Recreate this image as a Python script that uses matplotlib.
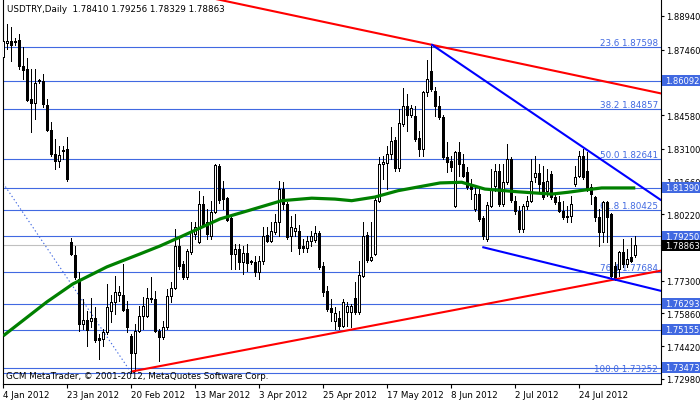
import matplotlib
matplotlib.use('Agg')
import matplotlib.pyplot as plt
from matplotlib.patches import Rectangle
import numpy as np

# ---------------- data ----------------
opens = [1.8714, 1.8775, 1.8784, 1.8784, 1.8789, 1.8674, 1.8661, 1.8529, 1.8511, 1.8613,
         1.8608, 1.8503, 1.8393, 1.8287, 1.8256, 1.8305, 1.8309, 1.7900, 1.7843, 1.7737,
         1.7539, 1.7557, 1.7552, 1.7565, 1.7477, 1.7473, 1.7504, 1.7596, 1.7636, 1.7667,
         1.7667, 1.7605, 1.7486, 1.7411, 1.7508, 1.7574, 1.7574, 1.7649, 1.7649, 1.7508,
         1.7482, 1.7526, 1.7662, 1.7697, 1.7882, 1.7803, 1.7746, 1.7856, 1.7935, 1.7900,
         1.8067, 1.7988, 1.7926, 1.8032, 1.8234, 1.8133, 1.8094, 1.8005, 1.7847, 1.7869,
         1.7812, 1.7851, 1.7816, 1.7812, 1.7768, 1.7816, 1.7931, 1.7904, 1.7944, 1.7988,
         1.8133, 1.8067, 1.7926, 1.7948, 1.7948, 1.7882, 1.7873, 1.7904, 1.7909, 1.7939,
         1.7794, 1.7684, 1.7609, 1.7552, 1.7565, 1.7530, 1.7592, 1.7592, 1.7654, 1.7592,
         1.7750, 1.7931, 1.7821, 1.7847, 1.8080, 1.8243, 1.8247, 1.8287, 1.8349, 1.8226,
         1.8419, 1.8498, 1.8459, 1.8454, 1.8357, 1.8309, 1.8560, 1.8653, 1.8564, 1.8498,
         1.8450, 1.8274, 1.8256, 1.8058, 1.8296, 1.8243, 1.8208, 1.8155, 1.8045, 1.8111,
         1.8005, 1.7913, 1.8058, 1.8146, 1.8212, 1.8067, 1.8164, 1.8265, 1.8080, 1.8036,
         1.7957, 1.8058, 1.8080, 1.8186, 1.8203, 1.8164, 1.8124, 1.8199, 1.8098, 1.8076,
         1.8036, 1.8014, 1.8014, 1.8155, 1.8190, 1.8278, 1.8212, 1.8142, 1.8098, 1.8010,
         1.7944, 1.8076, 1.8023, 1.7794, 1.7781, 1.7856, 1.7803, 1.7834, 1.78410]
highs = [1.8881, 1.8859, 1.8846, 1.8797, 1.8815, 1.8758, 1.8709, 1.8661, 1.8661, 1.8617,
         1.8639, 1.8529, 1.8428, 1.8353, 1.8322, 1.8322, 1.8362, 1.7917, 1.7882, 1.7768,
         1.7649, 1.7596, 1.7654, 1.7614, 1.7495, 1.7517, 1.7715, 1.7667, 1.7750, 1.7706,
         1.7803, 1.7640, 1.7495, 1.7539, 1.7618, 1.7658, 1.7697, 1.7746, 1.7684, 1.7517,
         1.7552, 1.7693, 1.7724, 1.7957, 1.7913, 1.7816, 1.7869, 1.7988, 1.7988, 1.8124,
         1.8102, 1.8045, 1.8080, 1.8243, 1.8243, 1.8168, 1.8098, 1.8010, 1.7891, 1.7891,
         1.7882, 1.7891, 1.7821, 1.7838, 1.7838, 1.7966, 1.7966, 1.7988, 1.8023, 1.8168,
         1.8164, 1.8076, 1.8014, 1.8023, 1.7975, 1.7913, 1.7926, 1.7948, 1.7970, 1.7948,
         1.7812, 1.7706, 1.7649, 1.7614, 1.7596, 1.7649, 1.7636, 1.7627, 1.7724, 1.7816,
         1.7988, 1.7944, 1.7988, 1.8102, 1.8274, 1.8278, 1.8322, 1.8406, 1.8362, 1.8485,
         1.8578, 1.8551, 1.8503, 1.8498, 1.8388, 1.8564, 1.8701, 1.8762, 1.8582, 1.8542,
         1.8459, 1.8340, 1.8278, 1.8300, 1.8340, 1.8287, 1.8230, 1.8177, 1.8146, 1.8133,
         1.8014, 1.8076, 1.8221, 1.8243, 1.8243, 1.8243, 1.8331, 1.8274, 1.8102, 1.8058,
         1.8067, 1.8102, 1.8265, 1.8278, 1.8243, 1.8234, 1.8221, 1.8212, 1.8111, 1.8102,
         1.8080, 1.8058, 1.8102, 1.8234, 1.8300, 1.8309, 1.8296, 1.8155, 1.8102, 1.8045,
         1.8080, 1.8080, 1.8027, 1.7812, 1.7860, 1.7913, 1.7869, 1.7917, 1.79256]
lows = [1.8705, 1.8749, 1.8696, 1.8767, 1.8661, 1.8617, 1.8520, 1.8384, 1.8441, 1.8600,
        1.8494, 1.8388, 1.8278, 1.8221, 1.8230, 1.8265, 1.8168, 1.7843, 1.7737, 1.7508,
        1.7517, 1.7442, 1.7526, 1.7460, 1.7385, 1.7442, 1.7495, 1.7548, 1.7583, 1.7640,
        1.7596, 1.7504, 1.7325, 1.7332, 1.7506, 1.7517, 1.7572, 1.7636, 1.7504, 1.7376,
        1.7473, 1.7517, 1.7636, 1.7693, 1.7781, 1.7737, 1.7737, 1.7847, 1.7913, 1.7898,
        1.7966, 1.7913, 1.7913, 1.8027, 1.8071, 1.8045, 1.7992, 1.7781, 1.7781, 1.7781,
        1.7759, 1.7772, 1.7803, 1.7750, 1.7737, 1.7803, 1.7900, 1.7900, 1.7935, 1.7926,
        1.8045, 1.7913, 1.7860, 1.7926, 1.7847, 1.7856, 1.7856, 1.7882, 1.7900, 1.7781,
        1.7662, 1.7596, 1.7552, 1.7517, 1.7517, 1.7526, 1.7530, 1.7526, 1.7583, 1.7583,
        1.7746, 1.7812, 1.7816, 1.7843, 1.8076, 1.8177, 1.8133, 1.8265, 1.8212, 1.8212,
        1.8410, 1.8388, 1.8450, 1.8344, 1.8278, 1.8278, 1.8542, 1.8564, 1.8454, 1.8441,
        1.8265, 1.8208, 1.8212, 1.8054, 1.8190, 1.8186, 1.8133, 1.8089, 1.8036, 1.7992,
        1.7913, 1.7904, 1.8054, 1.8124, 1.8058, 1.8058, 1.8155, 1.8076, 1.8023, 1.7944,
        1.7944, 1.8045, 1.8076, 1.8164, 1.8120, 1.8089, 1.8102, 1.8089, 1.8067, 1.8032,
        1.8001, 1.7988, 1.7988, 1.8146, 1.8186, 1.8177, 1.8124, 1.8067, 1.7992, 1.7882,
        1.7900, 1.7900, 1.7746, 1.7733, 1.7750, 1.7790, 1.7790, 1.7812, 1.78329]
closes = [1.8784, 1.8784, 1.8767, 1.8780, 1.8674, 1.8657, 1.8525, 1.8511, 1.8600, 1.8608,
          1.8507, 1.8393, 1.8287, 1.8256, 1.8283, 1.8300, 1.8177, 1.7847, 1.7746, 1.7539,
          1.7557, 1.7513, 1.7565, 1.7469, 1.7469, 1.7504, 1.7614, 1.7636, 1.7680, 1.7680,
          1.7600, 1.7526, 1.7411, 1.7508, 1.7574, 1.7618, 1.7654, 1.7654, 1.7508, 1.7482,
          1.7526, 1.7662, 1.7697, 1.7882, 1.7794, 1.7746, 1.7860, 1.7944, 1.7966, 1.8067,
          1.7970, 1.7935, 1.8032, 1.8239, 1.8085, 1.8089, 1.7997, 1.7847, 1.7869, 1.7812,
          1.7851, 1.7808, 1.7812, 1.7768, 1.7816, 1.7926, 1.7904, 1.7948, 1.7988, 1.8133,
          1.8067, 1.7922, 1.7966, 1.7961, 1.7873, 1.7873, 1.7904, 1.7926, 1.7939, 1.7790,
          1.7680, 1.7605, 1.7592, 1.7587, 1.7530, 1.7636, 1.7618, 1.7618, 1.7592, 1.7755,
          1.7926, 1.7821, 1.7834, 1.8085, 1.8243, 1.8252, 1.8287, 1.8344, 1.8226, 1.8423,
          1.8498, 1.8459, 1.8489, 1.8353, 1.8309, 1.8560, 1.8617, 1.8573, 1.8498, 1.8450,
          1.8274, 1.8252, 1.8230, 1.8296, 1.8243, 1.8190, 1.8142, 1.8133, 1.8111, 1.8001,
          1.7926, 1.8063, 1.8133, 1.8212, 1.8067, 1.8164, 1.8265, 1.8085, 1.8036, 1.7957,
          1.8058, 1.8080, 1.8168, 1.8203, 1.8155, 1.8098, 1.8168, 1.8098, 1.8076, 1.8036,
          1.8010, 1.8010, 1.8067, 1.8186, 1.8278, 1.8186, 1.8133, 1.8111, 1.8010, 1.7944,
          1.8076, 1.8010, 1.7750, 1.7741, 1.7856, 1.7803, 1.7825, 1.7816, 1.78863]

# moving average (green), read at sample bars
ma_idx = [0, 10.9, 17.4, 25.9, 34.2, 39.2, 44.2, 54.2, 61.2, 69.6, 77.1, 82.9, 87.1,
          92.9, 98.7, 109.2, 114.6, 120.4, 128.7, 137.1, 141.2, 145.4, 149.6, 158]
ma_val = [1.7488, 1.7637, 1.7716, 1.7791, 1.7848, 1.7883, 1.7922, 1.8002, 1.8038,
          1.8082, 1.8093, 1.8089, 1.8082, 1.8098, 1.8126, 1.8160, 1.8163, 1.8133,
          1.8121, 1.8111, 1.8119, 1.8129, 1.8138, 1.8138]

date_idx = [0, 16, 32, 48, 64, 80, 96, 112, 128, 144]
date_labels = ['4 Jan 2012', '23 Jan 2012', '20 Feb 2012', '13 Mar 2012', '3 Apr 2012',
               '25 Apr 2012', '17 May 2012', '8 Jun 2012', '2 Jul 2012', '24 Jul 2012']

price_ticks = [1.88940, 1.87460, 1.84580, 1.83100, 1.81660, 1.80220, 1.77300,
               1.75860, 1.74420, 1.72980]

hline_prices = [1.86092, 1.81390, 1.79250, 1.76293, 1.75155, 1.73473]

fib_pct = [23.6, 38.2, 50.0, 61.8, 76.4, 100.0]
fib_price = [1.87598, 1.84857, 1.82641, 1.80425, 1.77684, 1.73252]
fib_diag_idx = [-40.2, 32.0]
fib_diag_val = [1.92029, 1.73252]

red_upper_pts = [(107.2, 1.8767), (164.3, 1.8554)]
red_lower_idx = [32.4, 164.3]
red_lower_val = [1.7332, 1.7774]
blue_upper_idx = [107.2, 164.3]
blue_upper_val = [1.8767, 1.8086]
blue_lower_idx = [120.0, 164.3]
blue_lower_val = [1.7877, 1.7686]

header = 'USDTRY,Daily  1.78410 1.79256 1.78329 1.78863'
footer = 'GCM MetaTrader, \u00a9 2001-2012, MetaQuotes Software Corp.'

# ---------------- layout ----------------
W, H = 700, 402
L_PX, R_PX, T_PX, B_PX = 3, 660.5, 0, 385
FS = 6.0
LBLUE = '#4169E1'

fig = plt.figure(figsize=(W / 100, H / 100), dpi=100)
fig.patch.set_facecolor('white')
ax = fig.add_axes([L_PX / W, (H - B_PX) / H, (R_PX - L_PX) / W, (B_PX - T_PX) / H])
ax.set_facecolor('white')
ax.set_xlim(-0.075, 164.3)
ax.set_ylim(1.72760, 1.89687)

def axx(px):
    return (px - L_PX) / (R_PX - L_PX)

# horizontal lines
for p in hline_prices:
    ax.axhline(p, color=LBLUE, lw=0.8, zorder=1)
for p in fib_price:
    ax.axhline(p, color=LBLUE, lw=0.8, zorder=1)
ax.axhline(closes[-1], color='#C0C0C0', lw=0.8, zorder=1)

# fib labels
for pct, p in zip(fib_pct, fib_price):
    ax.text(axx(658), p, f'{pct:.1f} {p:.5f}', transform=ax.get_yaxis_transform(),
            ha='right', va='bottom', color=LBLUE, fontsize=FS + 0.3, zorder=1.5)

# fib diagonal
ax.plot(fib_diag_idx, fib_diag_val, color=LBLUE, lw=0.8, linestyle=(0, (1.2, 2.2)), zorder=1.5)

# candles
idx = np.arange(len(opens))
o = np.array(opens); h = np.array(highs); l = np.array(lows); c = np.array(closes)
up = c >= o
ax.vlines(idx, l, h, color='black', lw=0.72, zorder=3, antialiased=False)
bb = np.minimum(o, c)
bh = np.maximum(np.abs(c - o), 0.00004)
ax.bar(idx[up], bh[up], bottom=bb[up], width=0.42, facecolor='white', edgecolor='black',
       linewidth=0.72, zorder=4, antialiased=False)
ax.bar(idx[~up], bh[~up], bottom=bb[~up], width=0.42, facecolor='black', edgecolor='black',
       linewidth=0.72, zorder=4, antialiased=False)

# moving average
ax.plot(ma_idx, ma_val, color='#008000', lw=2.3, zorder=5, solid_capstyle='butt')

# trend lines
ax.axline(red_upper_pts[0], red_upper_pts[1], color='#FF0000', lw=1.5, zorder=6)
ax.plot(red_lower_idx, red_lower_val, color='#FF0000', lw=1.5, zorder=6)
ax.plot(blue_upper_idx, blue_upper_val, color='#0000FF', lw=1.5, zorder=6)
ax.plot(blue_lower_idx, blue_lower_val, color='#0000FF', lw=1.5, zorder=6)

# texts on chart
ax.text(7 / W, 1 - 10 / H, header, transform=fig.transFigure, ha='left', va='center',
        fontsize=FS + 0.3, color='black', zorder=2)
ax.text(6 / W, (H - 377) / H, footer, transform=fig.transFigure, ha='left', va='center',
        fontsize=FS + 0.3, color='black', zorder=2)

# axes styling
for s in ['left', 'right', 'bottom']:
    ax.spines[s].set_color('black')
    ax.spines[s].set_linewidth(0.8)
ax.spines['top'].set_visible(False)

ax.yaxis.tick_right()
ax.set_yticks(price_ticks)
ax.set_yticklabels([f'{v:.5f}' for v in price_ticks])
ax.tick_params(axis='y', direction='out', length=2.2, width=0.8, pad=1.5, labelsize=FS,
               colors='black')
ax.set_xticks(date_idx)
ax.set_xticklabels(date_labels)
for t in ax.get_xticklabels():
    t.set_ha('left')
ax.tick_params(axis='x', direction='out', length=3, width=0.8, pad=1.5, labelsize=FS + 0.3,
               colors='black')

# highlighted price boxes on the right
box_h = 11 * (1.89687 - 1.72760) / (B_PX - T_PX)
for p in hline_prices:
    ax.add_patch(Rectangle((axx(662), p - box_h / 2), axx(700) - axx(662), box_h,
                           transform=ax.get_yaxis_transform(), facecolor=LBLUE,
                           edgecolor='none', clip_on=False, zorder=20))
    ax.text(axx(665.5), p, f'{p:.5f}', transform=ax.get_yaxis_transform(), ha='left',
            va='center', color='white', fontsize=FS, clip_on=False, zorder=21)
ax.add_patch(Rectangle((axx(662), closes[-1] - box_h / 2), axx(700) - axx(662), box_h,
                       transform=ax.get_yaxis_transform(), facecolor='black',
                       edgecolor='none', clip_on=False, zorder=20))
ax.text(axx(665.5), closes[-1], f'{closes[-1]:.5f}', transform=ax.get_yaxis_transform(),
        ha='left', va='center', color='white', fontsize=FS, clip_on=False, zorder=21)

fig.savefig('out.png', dpi=100)
